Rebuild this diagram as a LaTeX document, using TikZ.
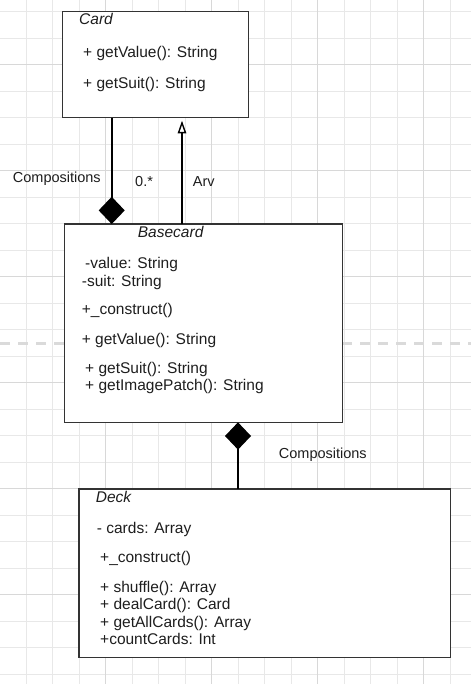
\documentclass[tikz,border=0pt]{standalone}
\usepackage{fontspec}
\setmainfont{Liberation Sans}
\usetikzlibrary{arrows.meta}
\definecolor{gridminor}{HTML}{E8E8E8}
\definecolor{gridmajor}{HTML}{D8D8D8}
\definecolor{dashgray}{HTML}{DADADA}
\definecolor{boxline}{HTML}{333333}
\definecolor{txt}{HTML}{1E1E1E}
\tikzset{
  umlbox/.style={draw=boxline, line width=1.2pt, fill=white, rectangle, inner sep=0pt, outer sep=0pt},
  mtext/.style={anchor=base west, inner sep=0pt, text=txt, font=\fontsize{15.5}{18}\selectfont},
  ttext/.style={mtext, font=\fontsize{15.5}{18}\selectfont\itshape},
  ltext/.style={anchor=base west, inner sep=0pt, text=txt, font=\fontsize{14.5}{17}\selectfont},
  conn/.style={line width=1.6pt, draw=black},
}
\begin{document}
\begin{tikzpicture}[x=1pt,y=-1pt]
\useasboundingbox (0,0) rectangle (471,684);
\fill[white] (0,0) rectangle (471,684);
% grid
\foreach \k in {1,...,17}{
  \pgfmathsetmacro{\xx}{-0.5+\k*26.5}
  \draw[gridminor, line width=0.9pt] (\xx,0) -- (\xx,684);
}
\foreach \k in {0,...,25}{
  \pgfmathsetmacro{\yy}{11.7+\k*26.5}
  \draw[gridminor, line width=0.9pt] (0,\yy) -- (471,\yy);
}
\foreach \k in {4,8,12,16}{
  \pgfmathsetmacro{\xx}{-0.5+\k*26.5}
  \draw[gridmajor, line width=0.9pt] (\xx,0) -- (\xx,684);
}
\foreach \k in {2,6,10,14,18,22}{
  \pgfmathsetmacro{\yy}{11.7+\k*26.5}
  \draw[gridmajor, line width=0.9pt] (0,\yy) -- (471,\yy);
}
% dashed separator
\draw[dashgray, line width=3pt, dash pattern=on 10pt off 8pt] (0,343.3) -- (471,343.3);

% boxes
\node[umlbox, minimum width=185.8pt, minimum height=106pt] (card) at (155.3,64.7) {};
\node[umlbox, minimum width=278.4pt, minimum height=198.3pt] (basecard) at (203.5,323.2) {};
\node[umlbox, minimum width=371.7pt, minimum height=168.7pt] (deck) at (264.85,573.35) {};

% Card texts
\node[ttext] (cardtitle) at (79,24.8) {Card};
\node[mtext] (cardm1) at (83,57.2) {+ getValue(): String};
\node[mtext] (cardm2) at (83,88.2) {+ getSuit(): String};

% Basecard texts
\node[ttext] (basetitle) at (137.7,237.2) {Basecard};
\node[mtext] (basea1) at (85,268.8) {-value: String};
\node[mtext] (basea2) at (81.7,286.2) {-suit: String};
\node[mtext] (basec) at (81.7,314.8) {+\_construct()};
\node[mtext] (basem1) at (81.7,344.5) {+ getValue(): String};
\node[mtext] (basem2) at (85,373.8) {+ getSuit(): String};
\node[mtext] (basem3) at (85,390.5) {+ getImagePatch(): String};

% Deck texts
\node[ttext] (decktitle) at (95.7,502.2) {Deck};
\node[mtext] (decka1) at (96.7,533.8) {- cards: Array};
\node[mtext] (deckc) at (100,562.8) {+\_construct()};
\node[mtext] (deckm1) at (100,592.2) {+ shuffle(): Array};
\node[mtext] (deckm2) at (100,609.5) {+ dealCard(): Card};
\node[mtext] (deckm3) at (100,627.2) {+ getAllCards(): Array};
\node[mtext] (deckm4) at (100,644.8) {+countCards: Int};

% connectors
\draw[conn, -{Diamond[length=27.3pt,width=26pt]}] (card.south -| 111.7,0) -- (basecard.north -| 111.7,0);
\draw[conn, -{Triangle[open, fill=white, length=12.6pt, width=8.4pt, line width=1.4pt]}] (basecard.north -| 182,0) -- ([yshift=-3pt]card.south -| 182,0);
\draw[conn, -{Diamond[length=27.3pt,width=26pt]}] (deck.north -| 238,0) -- (basecard.south -| 238,0);

% labels
\node[ltext] (lcomp1) at (12.7,183) {Compositions};
\node[ltext] (lmult) at (135,187) {0.*};
\node[ltext] (larv) at (192.7,187) {Arv};
\node[ltext] (lcomp2) at (278.7,458.3) {Compositions};
\end{tikzpicture}
\end{document}
